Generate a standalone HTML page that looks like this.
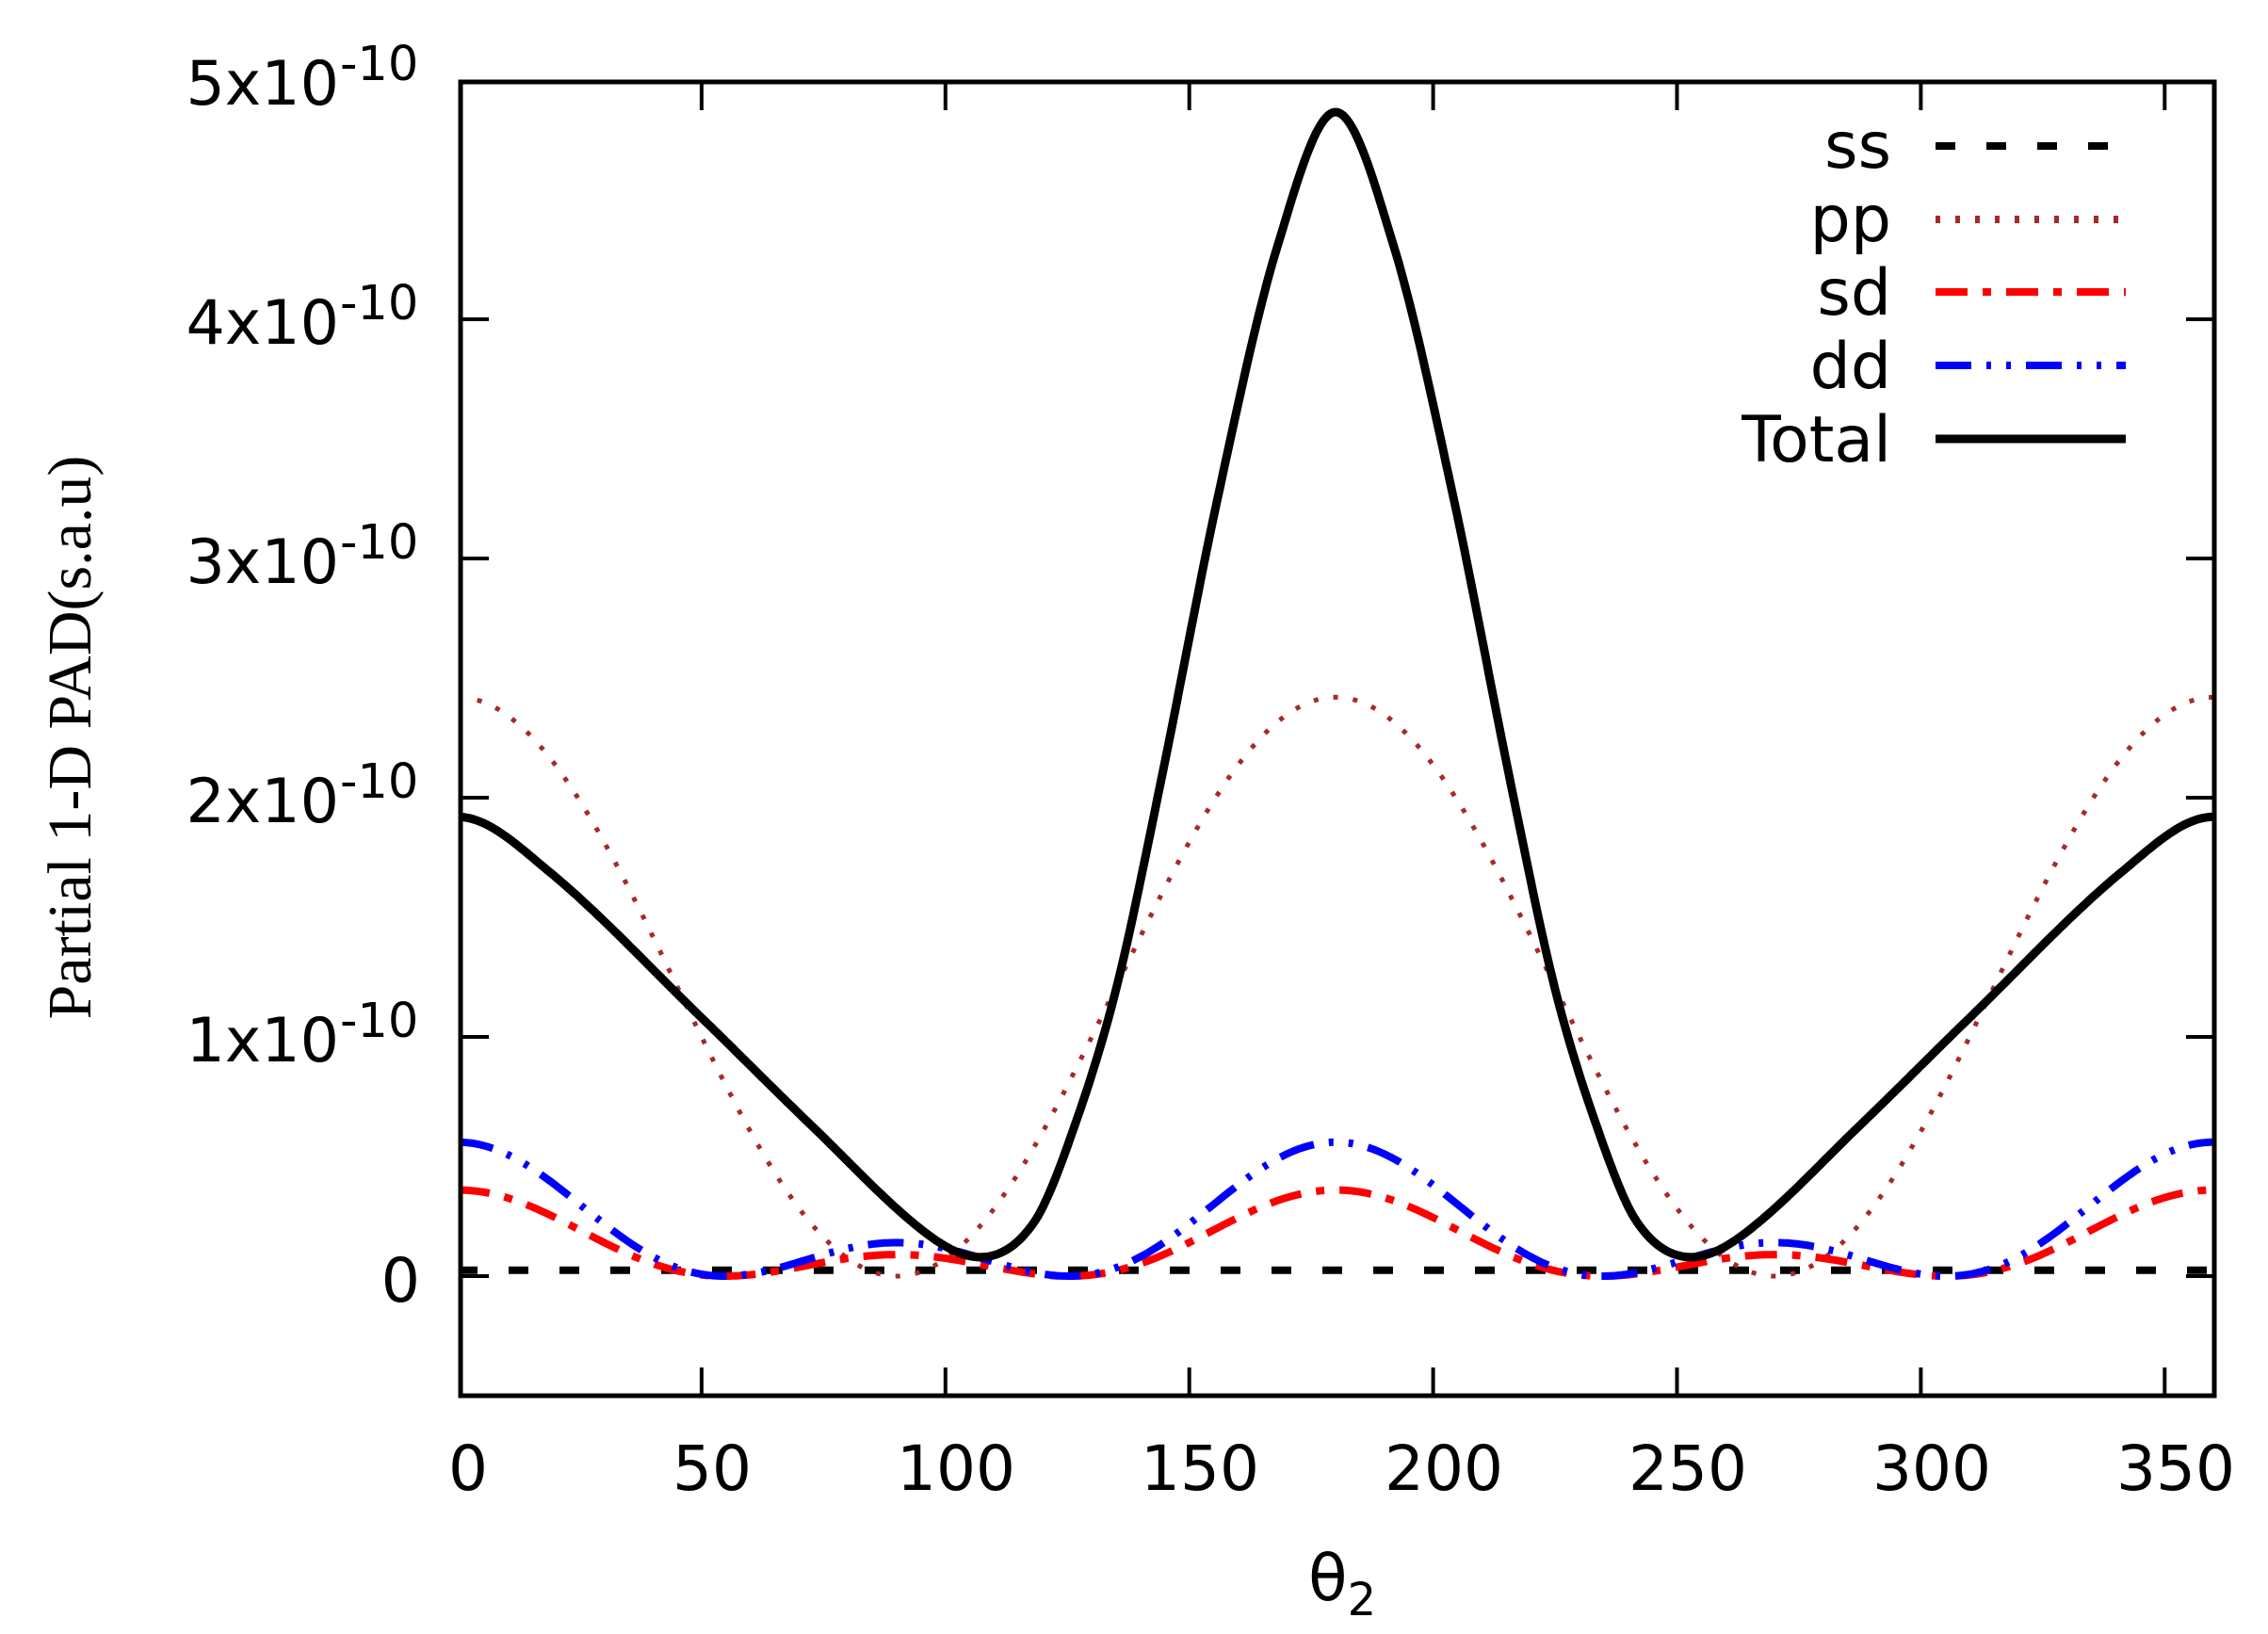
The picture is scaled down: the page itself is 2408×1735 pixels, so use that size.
<!DOCTYPE html>
<html><head><meta charset="utf-8"><style>
html,body{margin:0;padding:0;background:#fff;}
svg{display:block;}
text{font-family:"DejaVu Sans","Liberation Sans",sans-serif;fill:#000;}
</style></head><body>
<svg id="s" width="2408" height="1735" viewBox="0 0 2408 1735" xmlns="http://www.w3.org/2000/svg">
<defs><clipPath id="c"><rect x="489" y="87" width="1862" height="1395"/></clipPath></defs>
<g id="plot" clip-path="url(#c)"></g>
<rect x="489" y="87" width="1862" height="1395" fill="none" stroke="#000" stroke-width="5"/>
<g id="ticks" stroke="#000" stroke-width="4"></g>
<g font-size="65" text-anchor="end">
<text x="446" y="1382">0</text>
<text x="360" y="1127">1x10</text><text x="360" y="873">2x10</text><text x="360" y="619">3x10</text><text x="360" y="365">4x10</text><text x="360" y="111">5x10</text>
</g>
<g font-size="51" text-anchor="start">
<text x="361" y="1101">-10</text><text x="361" y="847">-10</text><text x="361" y="593">-10</text><text x="361" y="339">-10</text><text x="361" y="85">-10</text>
</g>
<g font-size="66" text-anchor="middle">
<text x="497" y="1582">0</text><text x="756" y="1582">50</text><text x="1015" y="1582">100</text><text x="1274" y="1582">150</text><text x="1533" y="1582">200</text><text x="1792" y="1582">250</text><text x="2051" y="1582">300</text><text x="2310" y="1582">350</text>
</g>
<text x="1389" y="1699" font-size="68">θ<tspan font-size="48" dy="16">2</tspan></text>
<text transform="translate(96,783) rotate(-90)" font-size="66" text-anchor="middle" style="font-family:'Liberation Serif',serif">Partial 1-D PAD(s.a.u)</text>
<g font-size="68" text-anchor="end">
<text x="2008" y="178">ss</text><text x="2008" y="256">pp</text><text x="2008" y="334">sd</text><text x="2008" y="412">dd</text><text x="2008" y="490">Total</text>
</g>
<g fill="none">
<line x1="2055" y1="155" x2="2257" y2="155" stroke="#000" stroke-width="8" stroke-dasharray="21,33"/>
<line x1="2055" y1="233" x2="2257" y2="233" stroke="#a52a2a" stroke-width="8" stroke-dasharray="5,16"/>
<line x1="2055" y1="310" x2="2257" y2="310" stroke="#f00" stroke-width="8" stroke-dasharray="34,16,9,16"/>
<line x1="2055" y1="388" x2="2257" y2="388" stroke="#00f" stroke-width="8" stroke-dasharray="38,16,5,16,5,16"/>
<line x1="2055" y1="466" x2="2257" y2="466" stroke="#000" stroke-width="9"/>
</g>
</svg>
<script>
var X=function(t){return 486+t*5.178;},Y=function(v){return 1355-v*254;};
var NS="http://www.w3.org/2000/svg";
function path(f,attrs){var d="";for(var t=0;t<=360;t+=0.5){d+=(t?"L":"M")+X(t).toFixed(1)+","+Y(f(t)).toFixed(1);}
var p=document.createElementNS(NS,"path");p.setAttribute("d",d);p.setAttribute("fill","none");for(var k in attrs)p.setAttribute(k,attrs[k]);document.getElementById("plot").appendChild(p);}
function P2(t){var c=Math.cos(t*Math.PI/180);return 1.5*c*c-0.5;}
var pts=[[-18.8,1.69],[0,1.92],[18.8,1.69],[50,1.08],[72.5,0.63],[96,0.18],[108,0.08],[118,0.22],[126,0.6],[135,1.2],[144,2.05],[156,3.27],[168,4.3],[180,4.866],[192,4.3]];
function cr(t){if(t>180)t=360-t;for(var i=1;i<pts.length-2;i++){if(t<=pts[i+1][0]){var p0=pts[i-1],p1=pts[i],p2=pts[i+1],p3=pts[i+2];var u=(t-p1[0])/(p2[0]-p1[0]);var h=p2[0]-p1[0];var m1=(p2[1]-p0[1])/(p2[0]-p0[0])*h,m2=(p3[1]-p1[1])/(p3[0]-p1[0])*h;var u2=u*u,u3=u2*u;return (2*u3-3*u2+1)*p1[1]+(u3-2*u2+u)*m1+(-2*u3+3*u2)*p2[1]+(u3-u2)*m2;}}return pts[pts.length-2][1];}
path(function(t){return 0.025;},{stroke:"#000","stroke-width":8,"stroke-dasharray":"21,33"});
path(function(t){var c=Math.cos(t*Math.PI/180);return 2.42*c*c;},{stroke:"#a52a2a","stroke-width":5,"stroke-dasharray":"5,16"});
path(function(t){var p=P2(t);return 0.36*p*p;},{stroke:"#f00","stroke-width":8,"stroke-dasharray":"34,16,9,16"});
path(function(t){var p=P2(t);return 0.56*p*p;},{stroke:"#00f","stroke-width":8,"stroke-dasharray":"38,16,5,16,5,16"});
path(cr,{stroke:"#000","stroke-width":9});
var g=document.getElementById("ticks"),s="";
for(var t=50;t<=350;t+=50){var x=X(t);s+='<line x1="'+x+'" y1="1482" x2="'+x+'" y2="1452"/><line x1="'+x+'" y1="87" x2="'+x+'" y2="117"/>';}
for(var v=0;v<=4;v++){var y=Y(v);s+='<line x1="489" y1="'+y+'" x2="519" y2="'+y+'"/><line x1="2351" y1="'+y+'" x2="2321" y2="'+y+'"/>';}
g.innerHTML=s;
</script>
</body></html>
